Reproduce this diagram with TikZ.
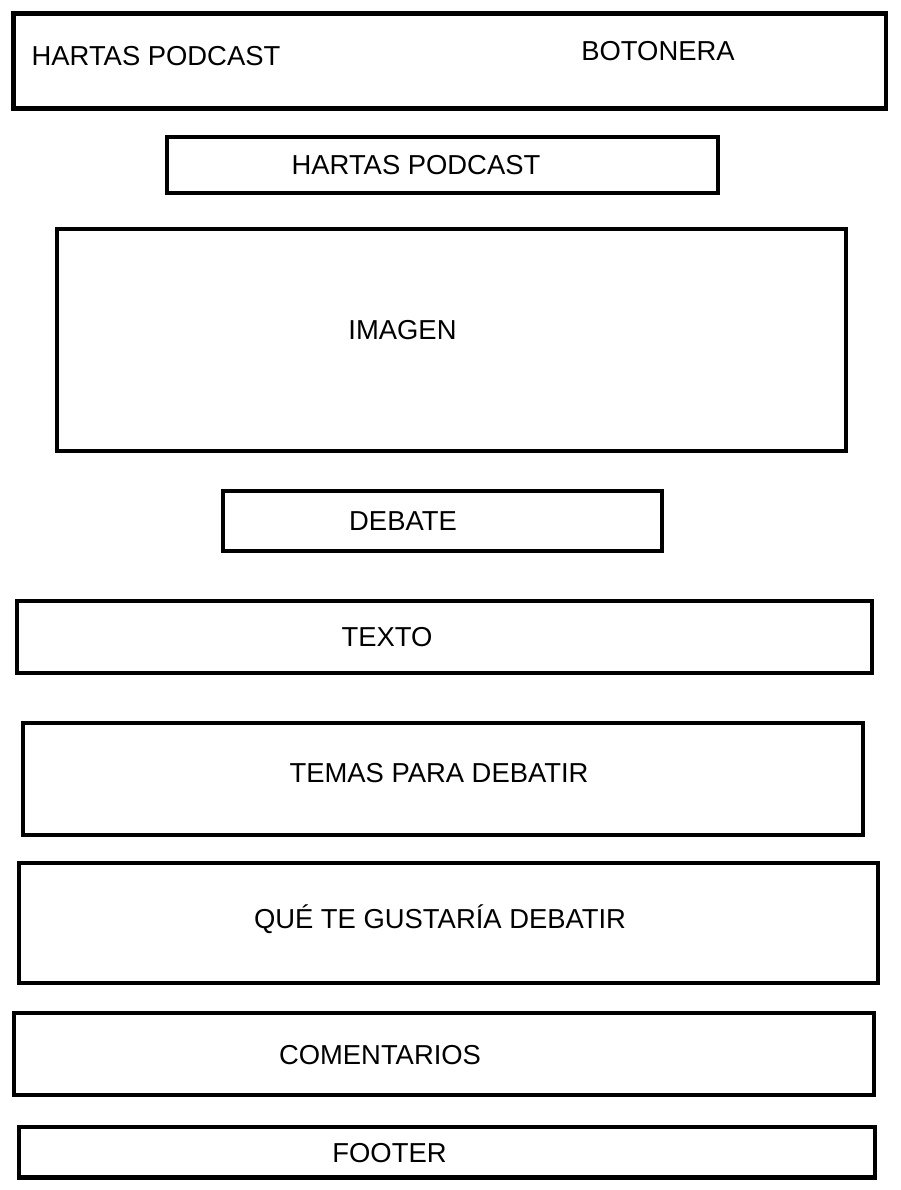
\documentclass[tikz,border=0pt]{standalone}
\usepackage{fontspec}
\setmainfont{Liberation Sans}
\begin{document}
\begin{tikzpicture}[x=1pt,y=-1pt,
  box/.style={draw=black,line width=4.6pt,rectangle,inner sep=0pt,outer sep=0pt},
  lbl/.style={anchor=base,inner sep=0pt,font=\fontsize{27.4}{32}\selectfont}]
\useasboundingbox (0,0) rectangle (900,1190);
\node[box,minimum width=872.5pt,minimum height=95pt] (header) at (449.75,61) {};
\node[box,minimum width=551pt,minimum height=56pt] (title) at (442.5,165) {};
\node[box,minimum width=789pt,minimum height=222pt] (imagen) at (451.5,340) {};
\node[box,minimum width=439pt,minimum height=60pt] (debate) at (442.5,521) {};
\node[box,minimum width=855pt,minimum height=72pt] (texto) at (444.5,637) {};
\node[box,minimum width=840pt,minimum height=112pt] (temas) at (443,779) {};
\node[box,minimum width=859pt,minimum height=120pt] (que) at (448.5,923) {};
\node[box,minimum width=860pt,minimum height=82pt] (coment) at (444,1054) {};
\node[box,minimum width=856pt,minimum height=50.5pt] (footer) at (447,1152.25) {};
\node[lbl] (t1) at (156,65.5) {HARTAS PODCAST};
\node[lbl] (t2) at (658,60.5) {BOTONERA};
\node[lbl] (t3) at (416,174.5) {HARTAS PODCAST};
\node[lbl] (t4) at (402.5,339.5) {IMAGEN};
\node[lbl] (t5) at (403,530.5) {DEBATE};
\node[lbl] (t6) at (387,646.5) {TEXTO};
\node[lbl] (t7) at (439,782.5) {TEMAS PARA DEBATIR};
\node[lbl] (t8) at (440,928.5) {QUÉ TE GUSTARÍA DEBATIR};
\node[lbl] (t9) at (380,1064.5) {COMENTARIOS};
\node[lbl] (t10) at (389.5,1162.5) {FOOTER};
\end{tikzpicture}
\end{document}
